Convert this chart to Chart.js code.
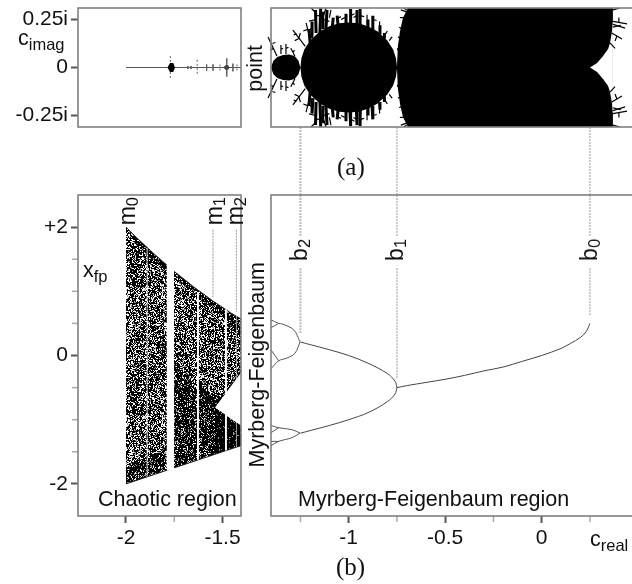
<!DOCTYPE html>
<html>
<head>
<meta charset="utf-8">
<script src="https://cdn.jsdelivr.net/npm/chart.js@4"></script>
<style>
  html, body { margin: 0; padding: 0; background: #fff; }
  #page { position: relative; width: 632px; height: 584px; overflow: hidden; font-family: "Liberation Sans", Arial, sans-serif; color: #111; }
  canvas { position: absolute; top: 0; }
  .t { position: absolute; font-size: 21.5px; line-height: 1; white-space: nowrap; }
  .v { writing-mode: vertical-rl; transform: rotate(180deg); }
  .s { font-family: "Liberation Serif", "Times New Roman", serif; font-size: 25px; }
  .t span { font-size: 16.5px; position: relative; top: 5px; }
  .v span { top: 0; left: -5px; }
  .b { font-size: 23px; }
</style>
</head>
<body>
<div id="page">
  <canvas id="left" width="256" height="584" style="left:0"></canvas>
  <canvas id="right" width="376" height="584" style="left:256px"></canvas>

  <div class="t" style="left:18px;top:28px">c<span>imag</span></div>
  <div class="t" style="left:83px;top:260px">x<span>fp</span></div>
  <div class="t v" style="left:245px;top:45px">point</div>
  <div class="t s" style="left:337px;top:154px">(a)</div>
  <div class="t s" style="left:336px;top:554px">(b)</div>
  <div class="t v b" style="left:116px;top:197px">m<span>0</span></div>
  <div class="t v b" style="left:203px;top:197px">m<span>1</span></div>
  <div class="t v b" style="left:224px;top:197px">m<span>2</span></div>
  <div class="t v b" style="left:288px;top:239px">b<span>2</span></div>
  <div class="t v b" style="left:384px;top:239px">b<span>1</span></div>
  <div class="t v b" style="left:578px;top:239px">b<span>0</span></div>
  <div class="t v" style="left:247px;top:262px">Myrberg-Feigenbaum</div>
  <div class="t" style="left:98px;top:489px">Chaotic region</div>
  <div class="t" style="left:298px;top:489px">Myrberg-Feigenbaum region</div>
  <div class="t" style="left:590px;top:529px">c<span>real</span></div>
</div>

<script>
// Tick values and labels
const imagTicks = [0.25, 0, -0.25];
const imagLabels = ['0.25i', '0', '-0.25i'];
const fpTicks = [2, 0, -2];
const fpLabels = ['+2', '0', '-2'];
const fpMinor = [1.5, 1, 0.5, -0.5, -1, -1.5];
const chaoticTicks = [-2, -1.5];
const chaoticLabels = ['-2', '-1.5'];
const chaoticMinor = [-1.75];
const myrbergTicks = [-1, -0.5, 0];
const myrbergLabels = ['-1', '-0.5', '0'];
const myrbergMinor = [-1.25, -0.75, -0.25, 0.25];

// Upper edge of the solid part of the set, the lower edge is its mirror
const setReal = [-1.403, -1.39, -1.37, -1.34, -1.31, -1.28, -1.26, -1.252,
  -1.25, -1.245, -1.23, -1.2, -1.15, -1.1, -1.05, -1, -0.95, -0.9, -0.85, -0.8, -0.77, -0.755, -0.75,
  -0.745, -0.734, -0.719, -0.703, -0.693, 0.369];
const setImag = [0, 0.035, 0.055, 0.065, 0.068, 0.06, 0.035, 0.006,
  0, 0.048, 0.094, 0.141, 0.188, 0.215, 0.23, 0.235, 0.23, 0.215, 0.188, 0.141, 0.094, 0.048, 0.005,
  0.112, 0.19, 0.258, 0.29, 0.31, 0.31];

// Notch of the main body at the cusp, cleared after the body is filled
const cuspReal = [0.25, 0.287, 0.318, 0.344, 0.354, 0.363, 0.369, 0.369];
const cuspImag = [0, 0.023, 0.06, 0.096, 0.128, 0.18, 0.242, 0.32];

// Thick clumps standing on the rim: from real, from imag, to real, to imag
const setClumps = [
  [-1.2, 0.13, -1.206, 0.2], [-1.185, 0.16, -1.19, 0.24], [-1.169, 0.18, -1.172, 0.3], [-1.149, 0.18, -1.145, 0.31],
  [-1.133, 0.2, -1.135, 0.29], [-1.118, 0.2, -1.112, 0.3], [-1.085, 0.21, -1.08, 0.26], [-1.055, 0.22, -1.06, 0.27],
  [-1.014, 0.23, -1.014, 0.28], [-0.993, 0.23, -0.99, 0.305], [-0.96, 0.225, -0.957, 0.3], [-0.94, 0.22, -0.941, 0.305],
  [-0.9, 0.21, -0.9, 0.25], [-0.879, 0.2, -0.875, 0.27], [-0.84, 0.18, -0.838, 0.22], [-0.815, 0.15, -0.815, 0.18]
];

// Filaments on the edge of the set: from real, from imag, to real, to imag
const setHairs = [
  [-1.372, 0.06, -1.418, 0.159], [-1.39, 0.1, -1.405, 0.09], [-1.395, 0.125, -1.38, 0.13],
  [-1.351, 0.07, -1.351, 0.117], [-1.351, 0.095, -1.34, 0.1], [-1.325, 0.07, -1.325, 0.122], [-1.325, 0.1, -1.312, 0.105],
  [-1.279, 0.06, -1.3, 0.1], [-1.29, 0.08, -1.28, 0.09],
  [-1.225, 0.11, -1.289, 0.195], [-1.26, 0.15, -1.25, 0.18], [-1.26, 0.15, -1.28, 0.14], [-1.27, 0.175, -1.285, 0.17],
  [-1.2, 0.15, -1.221, 0.232], [-1.21, 0.19, -1.19, 0.206], [-1.21, 0.2, -1.235, 0.19],
  [-1.17, 0.25, -1.206, 0.242], [-1.165, 0.28, -1.195, 0.31], [-1.17, 0.27, -1.14, 0.27], [-1.13, 0.25, -1.1, 0.24],
  [-1.13, 0.27, -1.118, 0.31], [-1.1, 0.26, -1.092, 0.3], [-1.06, 0.255, -1.04, 0.265], [-1.02, 0.26, -1.04, 0.25],
  [-0.99, 0.27, -0.97, 0.28], [-0.96, 0.27, -0.975, 0.26], [-0.94, 0.27, -0.92, 0.265], [-0.905, 0.22, -0.905, 0.275],
  [-0.875, 0.25, -0.855, 0.245], [-0.84, 0.21, -0.84, 0.24], [-0.815, 0.165, -0.8, 0.19], [-0.79, 0.14, -0.775, 0.16],
  [-0.74, 0.08, -0.748, 0.1], [-0.73, 0.15, -0.745, 0.16], [-0.722, 0.2, -0.738, 0.21], [-0.712, 0.26, -0.735, 0.26],
  [-0.7, 0.29, -0.73, 0.3], [-0.7, 0.3, -0.715, 0.31],
  [0.369, 0.3, 0.406, 0.31], [0.369, 0.24, 0.442, 0.227], [0.37, 0.225, 0.432, 0.205], [0.37, 0.21, 0.41, 0.22],
  [0.4, 0.235, 0.4, 0.26], [0.363, 0.18, 0.416, 0.148], [0.39, 0.165, 0.38, 0.138], [0.354, 0.128, 0.38, 0.1]
];

// Needle of the set on the real axis, left of the frame of panel (a)
const axisReal = [-2, -1.404];
const needleReal = [-1.77, -1.679, -1.663, -1.631, -1.582, -1.549, -1.513, -1.478, -1.446, -1.425];
const needleImag = [0.06, 0.008, 0.008, 0.04, 0.016, 0.016, 0.016, 0.047, 0.02, 0.016];
const blobReal = [-1.785, -1.772, -1.755, -1.746];
const blobImag = [0, 0.024, 0.024, 0];
const smallBlobReal = [-1.495, -1.485, -1.47, -1.463];
const smallBlobImag = [0, 0.012, 0.012, 0];
const pointDotReal = [-1.376];

// Envelope of the chaotic band
const chaosReal = [-2, -1.95, -1.9, -1.85, -1.8, -1.75, -1.7, -1.65, -1.6, -1.55, -1.5, -1.45, -1.404];
const chaosUpper = [2, 1.85, 1.71, 1.57, 1.44, 1.31, 1.19, 1.07, 0.96, 0.85, 0.75, 0.65, 0.57];
const chaosLower = [-2, -1.95, -1.9, -1.85, -1.8, -1.75, -1.7, -1.65, -1.6, -1.55, -1.5, -1.45, -1.404];
const upperFringe = [2, 1.73, 1.59, 1.45, 1.29, 1.19, 1.09, 0.97, 0.86, 0.75, 0.63, 0.45, 0.27];

// Denser parts of the chaotic band
const lowFringeReal = [-2, -1.9, -1.79];
const lowFringeTop = [-1.7, -1.6, -1.45];
const lowFringeBottom = [-2, -1.9, -1.79];
const lobeReal = [-1.824, -1.81, -1.793];
const lobeTop = [0.1, 0.3, 0.32];
const lobeBottom = [0.05, -0.02, -0.02];
const denseReal = [-1.75, -1.69, -1.632, -1.585, -1.539];
const denseTop = [-0.07, -0.29, -0.53, -0.69, -0.81];
const denseBottom = [-1.75, -1.69, -1.632, -1.585, -1.539];
const causticReal = [-1.632, -1.585, -1.539, -1.5, -1.45, -1.404];
const causticTop = [-0.38, -0.55, -0.7, -0.62, -0.42, -0.2];
const causticBottom = [-0.53, -0.69, -0.81, -0.74, -0.51, -0.27];
const blackReal = [-1.539, -1.5, -1.45, -1.404];
const blackTop = [-0.81, -0.89, -1, -1.09];
const blackBottom = [-1.539, -1.5, -1.45, -1.404];

// Empty parts of the chaotic band
const wedgeReal = [-1.539, -1.404];
const wedgeTop = [-0.81, -0.27];
const wedgeBottom = [-0.81, -1.09];
const windowStart = [-1.79, -1.632, -1.487, -1.431];
const windowEnd = [-1.75, -1.622, -1.477, -1.426];
const windowTop = [1.42, 0.99, 0.72, 0.62];
const windowBottom = [-1.79, -1.625, -1.48, -1.43];
const faintReal = [-1.895, -1.885];
const faintTop = [1.68, 1.66];
const faintBottom = [-1.89, -1.885];

// Stable branches, panel (b) right
const period1Real = [-0.75, -0.7, -0.6, -0.5, -0.4, -0.3, -0.2, -0.1, 0, 0.1, 0.15, 0.2, 0.23, 0.25];
const period1X = [-0.5, -0.47, -0.42, -0.37, -0.31, -0.24, -0.18, -0.09, 0, 0.11, 0.19, 0.28, 0.37, 0.5];
const period2Real = [-0.75, -0.76, -0.8, -0.9, -1, -1.1, -1.2, -1.25];
const period2Up = [-0.5, -0.4, -0.28, -0.12, 0, 0.09, 0.17, 0.21];
const period2Low = [-0.5, -0.6, -0.72, -0.89, -1, -1.09, -1.17, -1.21];
const period4A = [[-1.252, 0.213], [-1.285, 0.4], [-1.346, 0.493], [-1.363, 0.5], [-1.403, 0.556]];
const period4B = [[-1.252, 0.213], [-1.278, 0.037], [-1.32, -0.04], [-1.363, -0.082], [-1.403, -0.207]];
const period4C = [[-1.252, -1.208], [-1.294, -1.155], [-1.363, -1.125], [-1.403, -1.089]];
const period4D = [[-1.252, -1.208], [-1.294, -1.28], [-1.363, -1.338], [-1.403, -1.405]];
const period8A = [[-1.363, 0.5], [-1.403, 0.431]];
const period8B = [[-1.363, -0.082], [-1.403, 0.089]];
const period8C = [[-1.363, -1.125], [-1.403, -1.203]];
const period8D = [[-1.363, -1.338], [-1.403, -1.338]];

// Vertical guides
const guideReal = [-1.25, -0.75, 0.25];
const guideLabelTop = 1.86;
const guideLabelBottom = 1.36;
const guideEnd = [0.35, -0.35, 0.63];
const markerReal = [-1.549, -1.428];
const markerTop = [1.96, 1.96];
const markerEnd = [0.91, 0.68];

// Grain used as fill style for the chaotic band, same every run
function makeTile(density) {
  const size = 128;
  const tile = document.createElement('canvas');
  tile.width = size;
  tile.height = size;
  const c = tile.getContext('2d');
  for (let y = 0; y < size; y++) {
    for (let x = 0; x < size; x++) {
      let h = Math.imul(x + 1, 374761393) + Math.imul(y + 1, 668265263);
      h = Math.imul(h ^ (h >>> 13), 1274126177);
      const v = ((h ^ (h >>> 16)) >>> 0) / 4294967296;
      if (v < density) {
        c.fillStyle = '#000';
        c.fillRect(x, y, 1, 1);
      } else if (v < density + 0.12) {
        c.fillStyle = 'rgba(0,0,0,0.4)';
        c.fillRect(x, y, 1, 1);
      }
    }
  }
  return c.createPattern(tile, 'repeat');
}

const toPoints = (xs, ys) => xs.map((x, i) => ({ x, y: ys[i] }));

const line = (points, color, width, extra) => Object.assign({
  data: points, showLine: true, pointRadius: 0, borderColor: color, borderWidth: width, fill: false
}, extra);

// pair of lines with the area between them filled
const band = (real, top, bottom, color) => [
  line(toPoints(real, top), 'transparent', 0, { fill: '+1', backgroundColor: color }),
  line(toPoints(real, bottom), 'transparent', 0)
];

// the first in the list is drawn first
const stacked = list => {
  list.forEach((d, i) => { d.order = list.length - i; });
  return list;
};

// frame of each panel and the short unlabelled ticks
function panelPlugin(panels, minorX, minorY) {
  return {
    id: 'panels',
    afterDatasetsDraw(chart) {
      const c = chart.ctx;
      const x = chart.scales.x;
      c.save();
      c.strokeStyle = '#aaa';
      c.lineWidth = 1.5;
      minorX.forEach(v => {
        const p = x.getPixelForValue(v);
        c.beginPath();
        c.moveTo(p, x.top);
        c.lineTo(p, x.top + 6);
        c.stroke();
      });
      minorY.forEach(v => {
        const p = chart.scales.yMain.getPixelForValue(v);
        c.beginPath();
        c.moveTo(x.left, p);
        c.lineTo(x.left - 6, p);
        c.stroke();
      });
      c.strokeStyle = '#808080';
      c.lineWidth = 1.6;
      panels.forEach(id => {
        const y = chart.scales[id];
        c.strokeRect(x.left, y.top, panels.open ? x.width + 8 : x.width, y.height);
      });
      c.restore();
    }
  };
}

function explicitTicks(values, labels) {
  return {
    afterBuildTicks: axis => { axis.ticks = values.map(value => ({ value })); },
    ticks: {
      autoSkip: false, maxRotation: 0, color: '#111', font: { size: 21 },
      callback: v => labels[values.indexOf(v)]
    },
    grid: { drawOnChartArea: false, tickLength: 7, tickColor: '#555', tickWidth: 2 },
    border: { display: false }
  };
}

function scalesFor(xRange, xTicks, xLabels, showY) {
  const y = (weight, min, max, vals, labs) => Object.assign(
    { type: 'linear', position: 'left', stack: 'col', stackWeight: weight, min, max, display: showY && !!vals },
    vals ? explicitTicks(vals, labs) : {},
    {
      afterFit: s => {
        if (showY) s.width = 78;
        s.paddingTop = 0;
        s.paddingBottom = 0;
      }
    }
  );
  return {
    x: Object.assign(
      { type: 'linear', min: xRange[0], max: xRange[1] },
      explicitTicks(xTicks, xLabels),
      {
        afterFit: s => {
          s.height = 68;
          s.paddingLeft = 0;
          s.paddingRight = 0;
        }
      }
    ),
    yMain: y(321, -2.5, 2.5, showY ? fpTicks : null, fpLabels),
    yGap: y(68, 0, 1, null, null),
    yTop: y(119, -0.31, 0.31, showY ? imagTicks : null, imagLabels)
  };
}

Chart.defaults.font.family = '"Liberation Sans", Arial, sans-serif';
Chart.defaults.animation = false;
Chart.defaults.responsive = false;
Chart.defaults.plugins.legend.display = false;
Chart.defaults.plugins.tooltip.enabled = false;

// Left column: real-axis needle above, chaotic band below
const medium = makeTile(0.6);
const dark = makeTile(0.78);
const black = makeTile(0.92);

const leftData = [
  ...band(chaosReal, chaosUpper, chaosLower, medium),
  ...band(chaosReal, chaosUpper, upperFringe, dark),
  ...band(lowFringeReal, lowFringeTop, lowFringeBottom, dark),
  ...band(lobeReal, lobeTop, lobeBottom, dark),
  ...band(denseReal, denseTop, denseBottom, dark),
  ...band(causticReal, causticTop, causticBottom, black),
  ...band(blackReal, blackTop, blackBottom, black),
  ...band(faintReal, faintTop, faintBottom, 'rgba(255,255,255,0.55)'),
  ...band(wedgeReal, wedgeTop, wedgeBottom, '#fff'),
  line(toPoints(chaosReal, chaosUpper), '#222', 1),
  line(toPoints(chaosReal, chaosLower), '#222', 1)
];
windowStart.forEach((start, i) => {
  leftData.push(...band([start, windowEnd[i]], [windowTop[i], windowTop[i]], [windowBottom[i], windowBottom[i]], '#fff'));
});
leftData.forEach(d => { d.yAxisID = 'yMain'; });

markerReal.forEach((c, i) => {
  leftData.push(line([{ x: c, y: markerTop[i] }, { x: c, y: markerEnd[i] }], '#999', 1, { yAxisID: 'yMain', borderDash: [2, 1] }));
});

leftData.push(line(toPoints(axisReal, [0, 0]), '#555', 1.2, { yAxisID: 'yTop' }));
needleReal.forEach((c, i) => {
  leftData.push(line([{ x: c, y: needleImag[i] }, { x: c, y: -needleImag[i] }], '#666', 1, { yAxisID: 'yTop', borderDash: i % 3 === 0 ? [2, 2] : [] }));
});
[[blobReal, blobImag, '#000'], [smallBlobReal, smallBlobImag, '#444']].forEach(([r, h, col]) => {
  leftData.push(...band(r, h, h.map(v => -v), col).map(d => Object.assign(d, { yAxisID: 'yTop' })));
});
leftData.push({
  data: toPoints(pointDotReal, [0]), yAxisID: 'yTop', pointRadius: 1.2, pointBackgroundColor: '#222', pointBorderWidth: 0, clip: false
});

const leftPlugin = panelPlugin(['yTop', 'yMain'], chaoticMinor, fpMinor);

new Chart(document.getElementById('left'), {
  type: 'scatter',
  data: { datasets: stacked(leftData) },
  options: {
    layout: { padding: { top: 8, right: 15 } },
    scales: scalesFor([-2.2487, -1.404], chaoticTicks, chaoticLabels, true)
  },
  plugins: [leftPlugin]
});

// Right column: the set above, stable branches below, guides through both
const rightData = [
  ...band(setReal, setImag, setImag.map(v => -v), '#000').map(d => Object.assign(d, { yAxisID: 'yTop' })),
  ...band(cuspReal, cuspImag, cuspImag.map(v => -v), '#fff').map(d => Object.assign(d, { yAxisID: 'yTop' }))
];

const hairStyle = { yAxisID: 'yTop', clip: { left: 6, right: 0, top: 0, bottom: 0 } };
setClumps.forEach(h => {
  rightData.push(line([{ x: h[0], y: h[1] }, { x: h[2], y: h[3] }], '#000', 3, hairStyle));
  rightData.push(line([{ x: h[0], y: -h[1] }, { x: h[2], y: -h[3] }], '#000', 3, hairStyle));
});
setHairs.forEach(h => {
  rightData.push(line([{ x: h[0], y: h[1] }, { x: h[2], y: h[3] }], '#000', 1.2, hairStyle));
  rightData.push(line([{ x: h[0], y: -h[1] }, { x: h[2], y: -h[3] }], '#000', 1.2, hairStyle));
});

const branchStyle = { yAxisID: 'yMain', tension: 0.35 };
rightData.push(line(toPoints(period1Real, period1X), '#444', 1, branchStyle));
rightData.push(line(toPoints(period2Real, period2Up), '#444', 1, branchStyle));
rightData.push(line(toPoints(period2Real, period2Low), '#444', 1, branchStyle));
[period4A, period4B, period4C, period4D, period8A, period8B, period8C, period8D].forEach(b => {
  rightData.push(line(b.map(p => ({ x: p[0], y: p[1] })), '#555', 1, branchStyle));
});

guideReal.forEach((c, i) => {
  const guide = { borderDash: [2, 1], clip: false };
  const col = i === 0 ? '#bbb' : '#999';
  const w = i === 0 ? 2 : 1;
  rightData.push(line([{ x: c, y: 0 }, { x: c, y: 1 }], col, w, Object.assign({ yAxisID: 'yGap' }, guide)));
  rightData.push(line([{ x: c, y: 2.5 }, { x: c, y: guideLabelTop }], col, w, Object.assign({ yAxisID: 'yMain' }, guide)));
  rightData.push(line([{ x: c, y: guideLabelBottom }, { x: c, y: guideEnd[i] }], col, w, Object.assign({ yAxisID: 'yMain' }, guide)));
});

const rightPanels = ['yTop', 'yMain'];
rightPanels.open = true;

new Chart(document.getElementById('right'), {
  type: 'scatter',
  data: { datasets: stacked(rightData) },
  options: {
    layout: { padding: { top: 8, left: 15 } },
    scales: scalesFor([-1.4026, 0.4679], myrbergTicks, myrbergLabels, false)
  },
  plugins: [panelPlugin(rightPanels, myrbergMinor, [])]
});
</script>
</body>
</html>
